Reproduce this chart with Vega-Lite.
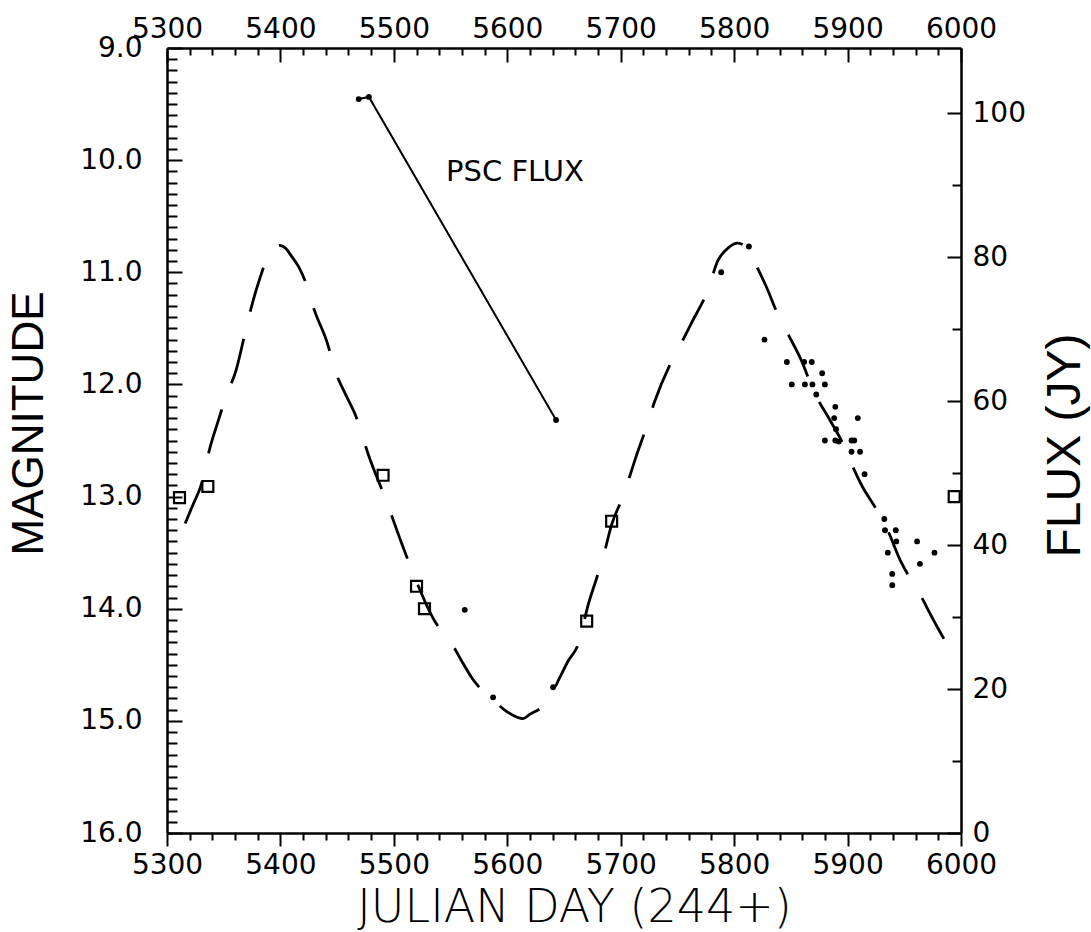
{
  "$schema": "https://vega.github.io/schema/vega-lite/v6.json",
  "width": 794,
  "height": 785,
  "autosize": {"type": "none"},
  "padding": {"left": 167, "top": 48, "right": 130, "bottom": 99},
  "background": "white",
  "config": {
    "view": {"stroke": null},
    "axis": {
      "domainColor": "black",
      "domainWidth": 2.5,
      "tickColor": "black",
      "tickWidth": 2,
      "labelColor": "black",
      "labelFont": "DejaVu Sans",
      "labelFontSize": 28,
      "labelFlush": false,
      "labelOverlap": false,
      "labelBound": false,
      "grid": false,
      "titleColor": "black",
      "titleFont": "Liberation Sans",
      "titleFontWeight": "normal"
    }
  },
  "datasets": {
    "curve": [
      {"jd": 5316, "mag": 13.24}, {"jd": 5323, "mag": 13.07}, {"jd": 5330, "mag": 12.90}, {"jd": 5338, "mag": 12.56},
      {"jd": 5345, "mag": 12.33}, {"jd": 5352, "mag": 12.11}, {"jd": 5361, "mag": 11.87}, {"jd": 5370, "mag": 11.49},
      {"jd": 5376, "mag": 11.25}, {"jd": 5382, "mag": 11.05}, {"jd": 5388, "mag": 10.88}, {"jd": 5394, "mag": 10.79},
      {"jd": 5399, "mag": 10.76}, {"jd": 5405, "mag": 10.79}, {"jd": 5410, "mag": 10.86}, {"jd": 5416, "mag": 10.95},
      {"jd": 5423, "mag": 11.11}, {"jd": 5430, "mag": 11.34}, {"jd": 5441, "mag": 11.62}, {"jd": 5449, "mag": 11.90},
      {"jd": 5457, "mag": 12.08}, {"jd": 5466, "mag": 12.27}, {"jd": 5478, "mag": 12.64}, {"jd": 5493, "mag": 13.03},
      {"jd": 5507, "mag": 13.42}, {"jd": 5520, "mag": 13.76}, {"jd": 5536, "mag": 14.11}, {"jd": 5551, "mag": 14.31},
      {"jd": 5560, "mag": 14.47}, {"jd": 5569, "mag": 14.62}, {"jd": 5578, "mag": 14.73}, {"jd": 5586, "mag": 14.80},
      {"jd": 5600, "mag": 14.92}, {"jd": 5614, "mag": 14.98}, {"jd": 5620, "mag": 14.94}, {"jd": 5630, "mag": 14.88},
      {"jd": 5638, "mag": 14.78}, {"jd": 5646, "mag": 14.62}, {"jd": 5654, "mag": 14.46}, {"jd": 5662, "mag": 14.33},
      {"jd": 5672, "mag": 13.94}, {"jd": 5679, "mag": 13.72}, {"jd": 5685, "mag": 13.52}, {"jd": 5692, "mag": 13.25},
      {"jd": 5702, "mag": 13.00}, {"jd": 5714, "mag": 12.63}, {"jd": 5722, "mag": 12.40}, {"jd": 5730, "mag": 12.15},
      {"jd": 5746, "mag": 11.77}, {"jd": 5755, "mag": 11.60}, {"jd": 5763, "mag": 11.44}, {"jd": 5776, "mag": 11.18},
      {"jd": 5786, "mag": 10.89}, {"jd": 5795, "mag": 10.78}, {"jd": 5803, "mag": 10.74}, {"jd": 5813, "mag": 10.80},
      {"jd": 5820, "mag": 10.95}, {"jd": 5828, "mag": 11.12}, {"jd": 5840, "mag": 11.41}, {"jd": 5849, "mag": 11.58},
      {"jd": 5859, "mag": 11.78}, {"jd": 5871, "mag": 12.08}, {"jd": 5884, "mag": 12.31}, {"jd": 5896, "mag": 12.53},
      {"jd": 5904, "mag": 12.72}, {"jd": 5913, "mag": 12.91}, {"jd": 5924, "mag": 13.09}, {"jd": 5934, "mag": 13.27},
      {"jd": 5947, "mag": 13.58}, {"jd": 5957, "mag": 13.76}, {"jd": 5967, "mag": 13.93}, {"jd": 5971, "mag": 14.01},
      {"jd": 5989, "mag": 14.34}
    ],
    "squares": [
      {"jd": 5311, "mag": 13.01}, {"jd": 5336, "mag": 12.91}, {"jd": 5490.5, "mag": 12.81}, {"jd": 5520, "mag": 13.80},
      {"jd": 5527, "mag": 14.0}, {"jd": 5670, "mag": 14.11}, {"jd": 5692, "mag": 13.22}, {"jd": 5994, "mag": 13.0}
    ],
    "dots": [
      {"jd": 5562.5, "mag": 14.01}, {"jd": 5587.5, "mag": 14.79}, {"jd": 5640.4, "mag": 14.70}, {"jd": 5788.6, "mag": 11.00},
      {"jd": 5813, "mag": 10.77}, {"jd": 5826.7, "mag": 11.60}, {"jd": 5846.5, "mag": 11.80}, {"jd": 5861.7, "mag": 11.80},
      {"jd": 5868.4, "mag": 11.80}, {"jd": 5850.8, "mag": 12.00}, {"jd": 5862.4, "mag": 12.00}, {"jd": 5869, "mag": 12.00},
      {"jd": 5877.6, "mag": 11.90}, {"jd": 5880, "mag": 12.00}, {"jd": 5872.4, "mag": 12.09}, {"jd": 5889.2, "mag": 12.20},
      {"jd": 5888.2, "mag": 12.30}, {"jd": 5889.8, "mag": 12.40}, {"jd": 5909, "mag": 12.30}, {"jd": 5880, "mag": 12.50},
      {"jd": 5889.2, "mag": 12.50}, {"jd": 5892.2, "mag": 12.51}, {"jd": 5903.5, "mag": 12.50}, {"jd": 5905.9, "mag": 12.50},
      {"jd": 5903.5, "mag": 12.60}, {"jd": 5911, "mag": 12.60}, {"jd": 5915, "mag": 12.80}, {"jd": 5932.4, "mag": 13.20},
      {"jd": 5933, "mag": 13.30}, {"jd": 5942.5, "mag": 13.30}, {"jd": 5943, "mag": 13.40}, {"jd": 5961.3, "mag": 13.40},
      {"jd": 5935.5, "mag": 13.50}, {"jd": 5976.6, "mag": 13.50}, {"jd": 5963.8, "mag": 13.60}, {"jd": 5939.4, "mag": 13.69},
      {"jd": 5939.4, "mag": 13.79}
    ],
    "psc": [
      {"jd": 5469, "flux": 102.0}, {"jd": 5478, "flux": 102.3}, {"jd": 5643, "flux": 57.4}
    ],
    "label": [
      {"text": "PSC FLUX", "jd": 5546, "mag": 10.19}
    ]
  },
  "resolve": {"scale": {"y": "independent"}, "axis": {"x": "independent", "y": "independent"}},
  "layer": [
    {
      "data": {"name": "curve"},
      "mark": {"type": "line", "color": "black", "strokeWidth": 2.8, "strokeDash": [46, 28], "interpolate": "monotone"},
      "encoding": {
        "x": {
          "field": "jd", "type": "quantitative",
          "scale": {"domain": [5300, 6000], "nice": false, "zero": false},
          "axis": {
            "orient": "bottom",
            "values": [5300,5320,5340,5360,5380,5400,5420,5440,5460,5480,5500,5520,5540,5560,5580,5600,5620,5640,5660,5680,5700,5720,5740,5760,5780,5800,5820,5840,5860,5880,5900,5920,5940,5960,5980,6000],
            "format": "d",
            "tickSize": {"condition": {"test": "datum.value % 100 === 0", "value": 13}, "value": 7},
            "labelExpr": "datum.value % 100 === 0 ? datum.label : ''",
            "labelPadding": 5,
            "title": "JULIAN DAY (244+)",
            "titleFont": "DejaVu Sans",
            "titleFontWeight": 200,
            "titleFontSize": 46,
            "titleX": 407,
            "titleY": 74,
            "titleAlign": "center",
            "titleBaseline": "middle"
          }
        },
        "y": {
          "field": "mag", "type": "quantitative",
          "scale": {"domain": [9, 16], "reverse": true, "nice": false, "zero": false},
          "axis": {
            "orient": "left",
            "values": [9,9.1,9.2,9.3,9.4,9.5,9.6,9.7,9.8,9.9,10,10.1,10.2,10.3,10.4,10.5,10.6,10.7,10.8,10.9,11,11.1,11.2,11.3,11.4,11.5,11.6,11.7,11.8,11.9,12,12.1,12.2,12.3,12.4,12.5,12.6,12.7,12.8,12.9,13,13.1,13.2,13.3,13.4,13.5,13.6,13.7,13.8,13.9,14,14.1,14.2,14.3,14.4,14.5,14.6,14.7,14.8,14.9,15,15.1,15.2,15.3,15.4,15.5,15.6,15.7,15.8,15.9,16],
            "tickSize": {"condition": {"test": "abs(datum.value - round(datum.value)) < 0.001", "value": -15}, "value": -10},
            "labelExpr": "abs(datum.value - round(datum.value)) < 0.001 ? format(datum.value, '.1f') : ''",
            "labelPadding": 40,
            "title": "MAGNITUDE",
            "titleFontSize": 44,
            "titleAngle": 270,
            "titleX": -138,
            "titleY": 375,
            "titleAlign": "center",
            "titleBaseline": "middle"
          }
        }
      }
    },
    {
      "data": {"name": "squares"},
      "mark": {"type": "point", "shape": "square", "filled": false, "color": "black", "strokeWidth": 2.2, "size": 120, "opacity": 1},
      "encoding": {
        "x": {
          "field": "jd", "type": "quantitative",
          "scale": {"domain": [5300, 6000], "nice": false, "zero": false},
          "axis": {
            "orient": "top",
            "values": [5300,5320,5340,5360,5380,5400,5420,5440,5460,5480,5500,5520,5540,5560,5580,5600,5620,5640,5660,5680,5700,5720,5740,5760,5780,5800,5820,5840,5860,5880,5900,5920,5940,5960,5980,6000],
            "format": "d",
            "tickSize": {"condition": {"test": "datum.value % 100 === 0", "value": -14}, "value": -7},
            "labelExpr": "datum.value % 100 === 0 ? datum.label : ''",
            "labelPadding": 19,
            "title": null
          }
        },
        "y": {
          "field": "mag", "type": "quantitative",
          "scale": {"domain": [9, 16], "reverse": true, "nice": false, "zero": false},
          "axis": null
        }
      }
    },
    {
      "data": {"name": "dots"},
      "mark": {"type": "point", "shape": "circle", "filled": true, "color": "black", "size": 34, "opacity": 1},
      "encoding": {
        "x": {"field": "jd", "type": "quantitative", "scale": {"domain": [5300, 6000], "nice": false, "zero": false}, "axis": null},
        "y": {"field": "mag", "type": "quantitative", "scale": {"domain": [9, 16], "reverse": true, "nice": false, "zero": false}, "axis": null}
      }
    },
    {
      "data": {"name": "psc"},
      "mark": {"type": "line", "color": "black", "strokeWidth": 2, "point": {"filled": true, "color": "black", "size": 34, "opacity": 1}},
      "encoding": {
        "x": {"field": "jd", "type": "quantitative", "scale": {"domain": [5300, 6000], "nice": false, "zero": false}, "axis": null},
        "y": {
          "field": "flux", "type": "quantitative",
          "scale": {"domain": [0, 109.1], "nice": false, "zero": false},
          "axis": {
            "orient": "right",
            "values": [0,10,20,30,40,50,60,70,80,90,100],
            "format": "d",
            "tickSize": {"condition": {"test": "datum.value % 20 === 0", "value": -14}, "value": -9},
            "labelExpr": "datum.value % 20 === 0 ? datum.label : ''",
            "labelPadding": 25,
            "title": "FLUX (JY)",
            "titleFontSize": 48,
            "titleAngle": 270,
            "titleX": 104,
            "titleY": 397,
            "titleAlign": "center",
            "titleBaseline": "middle"
          }
        }
      }
    },
    {
      "data": {"name": "label"},
      "mark": {"type": "text", "font": "DejaVu Sans", "fontSize": 29, "color": "black", "align": "left", "baseline": "alphabetic"},
      "encoding": {
        "x": {"field": "jd", "type": "quantitative", "scale": {"domain": [5300, 6000], "nice": false, "zero": false}, "axis": null},
        "y": {"field": "mag", "type": "quantitative", "scale": {"domain": [9, 16], "reverse": true, "nice": false, "zero": false}, "axis": null},
        "text": {"field": "text", "type": "nominal"}
      }
    }
  ]
}
